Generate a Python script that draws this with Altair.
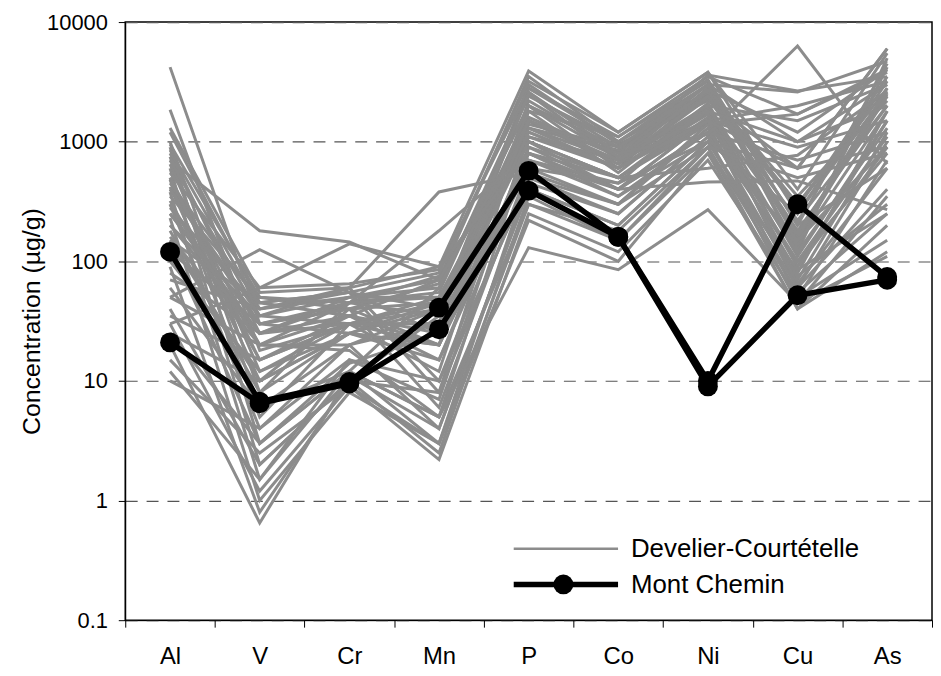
import altair as alt
import pandas as pd

# ---------------- data ----------------
elements = ["Al", "V", "Cr", "Mn", "P", "Co", "Ni", "Cu", "As"]

# Develier-Courtételle (grey profiles), values in µg/g per element
dc01 = [1300, 55, 60, 90, 3900, 1200, 3800, 250, 3200]
dc02 = [1200, 45, 35, 70, 3500, 1000, 3000, 120, 5000]
dc03 = [1000, 8, 25, 40, 2800, 1100, 3500, 1700, 4000]
dc04 = [950, 50, 40, 20, 2000, 900, 2500, 300, 2800]
dc05 = [900, 3, 12, 60, 2500, 700, 1500, 80, 1800]
dc06 = [850, 40, 55, 8, 1800, 1100, 3200, 200, 4500]
dc07 = [800, 25, 45, 75, 1200, 600, 2800, 150, 2500]
dc08 = [750, 6, 20, 30, 3000, 950, 2200, 600, 6000]
dc09 = [700, 35, 50, 50, 1000, 500, 1800, 90, 1500]
dc10 = [650, 12, 30, 12, 2200, 800, 3600, 2650, 3500]
dc11 = [600, 2, 10, 35, 1500, 650, 2000, 60, 1000]
dc12 = [550, 60, 65, 85, 2800, 1000, 2600, 350, 2200]
dc13 = [500, 20, 18, 5, 900, 400, 1200, 100, 800]
dc14 = [480, 5, 30, 45, 1600, 750, 3000, 1000, 3000]
dc15 = [450, 45, 55, 25, 1300, 850, 2400, 180, 2000]
dc16 = [420, 10, 40, 65, 2000, 600, 1700, 70, 1200]
dc17 = [400, 30, 25, 15, 700, 450, 1000, 250, 2600]
dc18 = [380, 1.5, 15, 7, 1100, 700, 2800, 130, 4200]
dc19 = [350, 50, 45, 55, 2400, 1000, 3300, 200, 600]
dc20 = [320, 15, 35, 20, 600, 300, 1400, 1700, 3800]
dc21 = [300, 4, 20, 40, 1800, 550, 2100, 110, 1500]
dc22 = [280, 40, 60, 10, 800, 500, 1400, 50, 700]
dc23 = [250, 25, 50, 70, 1400, 900, 2600, 300, 2400]
dc24 = [230, 1, 8, 3, 500, 250, 1100, 45, 350]
dc25 = [200, 35, 30, 30, 2600, 800, 3000, 160, 2800]
dc26 = [180, 8, 45, 50, 1000, 400, 1500, 2000, 3200]
dc27 = [160, 20, 20, 4, 400, 200, 1000, 75, 300]
dc28 = [150, 45, 55, 80, 3200, 1200, 3800, 400, 5500]
dc29 = [130, 3, 14, 25, 700, 350, 1200, 140, 1800]
dc30 = [120, 30, 40, 6, 600, 450, 2000, 90, 900]
dc31 = [100, 12, 25, 45, 1500, 650, 2300, 220, 2000]
dc32 = [90, 0.8, 10, 2.5, 350, 150, 900, 55, 250]
dc33 = [80, 25, 35, 15, 900, 500, 1600, 120, 1300]
dc34 = [70, 40, 50, 60, 2000, 750, 2700, 1200, 4000]
dc35 = [60, 6, 12, 3, 300, 180, 900, 40, 200]
dc36 = [50, 20, 45, 35, 1100, 600, 1900, 170, 2400]
dc37 = [40, 2, 10, 8, 500, 300, 1300, 65, 600]
dc38 = [35, 15, 30, 50, 1300, 700, 2400, 280, 3500]
dc39 = [30, 1.2, 9, 2.2, 250, 120, 700, 50, 150]
dc40 = [25, 10, 25, 20, 800, 400, 1500, 100, 1100]
dc41 = [20, 0.65, 11, 4, 400, 200, 1000, 60, 400]
dc42 = [15, 2.5, 9, 3, 220, 100, 800, 40, 120]
dc43 = [12, 1.5, 12, 5, 300, 150, 800, 85, 250]
dc44 = [10, 4, 15, 10, 450, 250, 1100, 150, 900]
dc45 = [4200, 30, 40, 45, 1500, 700, 2000, 1500, 3000]
dc46 = [1850, 18, 30, 40, 2500, 900, 3000, 2600, 4700]
dc47 = [700, 180, 145, 70, 1300, 600, 1800, 1000, 2000]
dc48 = [50, 125, 55, 40, 1000, 500, 1500, 900, 1500]
dc49 = [30, 60, 140, 90, 800, 400, 1200, 700, 1200]
dc50 = [400, 35, 60, 380, 550, 300, 900, 500, 800]
dc51 = [250, 30, 45, 180, 800, 350, 1000, 600, 900]
dc52 = [25, 3, 12, 5, 130, 85, 270, 45, 110]
dc53 = [500, 15, 30, 20, 1500, 800, 1150, 6300, 650]
dc54 = [300, 20, 35, 25, 1200, 600, 1500, 600, 6000]
dc55 = [200, 25, 30, 30, 1000, 500, 600, 770, 2650]
dc56 = [150, 10, 25, 20, 700, 400, 460, 470, 270]

# Mont Chemin (black profiles)
mc1 = [120, 6.7, 9.8, 41, 570, 160, 10, 300, 74]
mc2 = [21, 6.5, 9.5, 27, 390, 160, 9, 52, 70]

legend_labels = ["Develier-Courtételle", "Mont Chemin"]
y_ticks = [0.1, 1, 10, 100, 1000, 10000]

dc_series = [dc01, dc02, dc03, dc04, dc05, dc06, dc07, dc08, dc09, dc10,
             dc11, dc12, dc13, dc14, dc15, dc16, dc17, dc18, dc19, dc20,
             dc21, dc22, dc23, dc24, dc25, dc26, dc27, dc28, dc29, dc30,
             dc31, dc32, dc33, dc34, dc35, dc36, dc37, dc38, dc39, dc40,
             dc41, dc42, dc43, dc44, dc45, dc46, dc47, dc48, dc49, dc50,
             dc51, dc52, dc53, dc54, dc55, dc56]
mc_series = [mc1, mc2]


def to_long(series_list, prefix):
    rows = []
    for s_i, vals in enumerate(series_list):
        for e_i, (el, v) in enumerate(zip(elements, vals)):
            rows.append({"sid": f"{prefix}{s_i}", "element": el, "idx": e_i, "value": v})
    return pd.DataFrame(rows)


df_dc = to_long(dc_series, "dc")
df_mc = to_long(mc_series, "mc")

GREY = "#8c8c8c"
FONT = "Liberation Sans"

x_enc = alt.X(
    "element:N",
    sort=elements,
    scale=alt.Scale(type="band", paddingInner=0, paddingOuter=0),
    axis=alt.Axis(
        title=None, labelAngle=0, tickBand="extent", tickSize=7,
        labelPadding=18, labelFontSize=24, labelColor="black",
        domainColor="black", tickColor="black", grid=False,
    ),
)
y_scale = alt.Scale(type="log", domain=[0.1, 10000], nice=False)
y_axis = alt.Axis(
    values=y_ticks, format="~g", tickSize=7, labelPadding=11,
    labelFontSize=22, labelColor="black",
    title="Concentration (µg/g)", titleFontSize=25, titleFontWeight="normal",
    titleColor="black", titlePadding=2,
    grid=True, gridDash=[12, 9], gridColor="#555555", gridWidth=1.2,
    domainColor="black", tickColor="black",
)

grey_lines = alt.Chart(df_dc).mark_line(color=GREY, strokeWidth=3).encode(
    x=x_enc,
    y=alt.Y("value:Q", scale=y_scale, axis=y_axis),
    detail="sid:N",
    order="idx:Q",
)

black_lines = alt.Chart(df_mc).mark_line(color="black", strokeWidth=5.5).encode(
    x=alt.X("element:N", sort=elements),
    y=alt.Y("value:Q"),
    detail="sid:N",
    order="idx:Q",
)

black_pts = alt.Chart(df_mc).mark_circle(color="black", size=400, opacity=1).encode(
    x=alt.X("element:N", sort=elements),
    y=alt.Y("value:Q"),
)

# legend (drawn inside the plot area, bottom right)
one = pd.DataFrame({"k": [0]})
leg_grey = alt.Chart(one).mark_rule(color=GREY, strokeWidth=2.5).encode(
    x=alt.value(391), x2=alt.value(496), y=alt.value(530))
leg_black = alt.Chart(one).mark_rule(color="black", strokeWidth=5.5).encode(
    x=alt.value(391), x2=alt.value(496), y=alt.value(566))
leg_dot = alt.Chart(one).mark_circle(color="black", size=400, opacity=1).encode(
    x=alt.value(441), y=alt.value(566))
leg_t1 = alt.Chart(one).mark_text(align="left", baseline="middle", fontSize=26,
                                  font=FONT, color="black").encode(
    x=alt.value(509), y=alt.value(530), text=alt.value(legend_labels[0]))
leg_t2 = alt.Chart(one).mark_text(align="left", baseline="middle", fontSize=26,
                                  font=FONT, color="black").encode(
    x=alt.value(509), y=alt.value(567), text=alt.value(legend_labels[1]))

chart = (
    alt.layer(grey_lines, black_lines, black_pts,
              leg_grey, leg_black, leg_dot, leg_t1, leg_t2)
    .properties(width=812, height=602,
                padding={"left": 11, "top": 1, "right": 0, "bottom": 0},
                background="white")
    .configure_view(stroke="black", strokeWidth=1.5)
    .configure_axis(labelFont=FONT, titleFont=FONT)
)

chart.save("out.html", embed_options={"renderer": "svg", "actions": False})
